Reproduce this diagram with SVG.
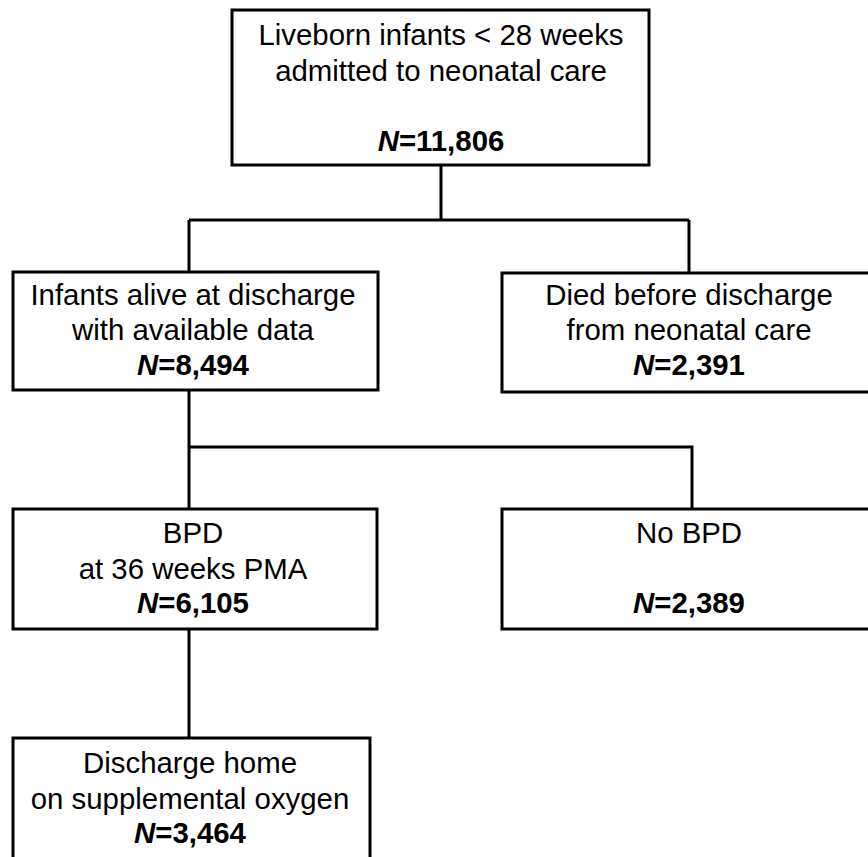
<svg xmlns="http://www.w3.org/2000/svg" width="868" height="857" viewBox="0 0 868 857">
<style>
.box{fill:#fff;stroke:#000;stroke-width:3}
.ln{fill:none;stroke:#000;stroke-width:3}
text{font-family:"Liberation Sans",Arial,sans-serif;font-size:29.4px;fill:#000;text-anchor:middle}
.n{font-weight:bold}
.i{font-style:italic}
</style>
<rect width="868" height="857" fill="#fff"/>
<g id="connectors">
<path class="ln" d="M441,165 V220 M189,220 H689 M189,220 V272 M689,220 V272"/>
<path class="ln" d="M189,391 V447 H692 V509 M189,447 V509"/>
<path class="ln" d="M189,629 V738"/>
</g>
<g id="n1">
<rect class="box" x="232" y="10" width="417" height="155"/>
<text x="441" y="45">Liveborn infants &lt; 28 weeks</text>
<text x="441" y="81">admitted to neonatal care</text>
<text x="441" y="151" class="n"><tspan class="i">N</tspan>=11,806</text>
</g>
<g id="n2">
<rect class="box" x="13" y="272" width="365" height="118"/>
<text x="193" y="305">Infants alive at discharge</text>
<text x="193" y="340">with available data</text>
<text x="193" y="375" class="n"><tspan class="i">N</tspan>=8,494</text>
</g>
<g id="n3">
<rect class="box" x="502" y="273" width="370" height="119"/>
<text x="689" y="305">Died before discharge</text>
<text x="689" y="340">from neonatal care</text>
<text x="689" y="375" class="n"><tspan class="i">N</tspan>=2,391</text>
</g>
<g id="n4">
<rect class="box" x="13" y="509" width="364" height="120"/>
<text x="193" y="543">BPD</text>
<text x="193" y="579">at 36 weeks PMA</text>
<text x="193" y="613" class="n"><tspan class="i">N</tspan>=6,105</text>
</g>
<g id="n5">
<rect class="box" x="502" y="509" width="370" height="120"/>
<text x="689" y="543">No BPD</text>
<text x="689" y="613" class="n"><tspan class="i">N</tspan>=2,389</text>
</g>
<g id="n6">
<rect class="box" x="13" y="738" width="357" height="125"/>
<text x="190" y="773">Discharge home</text>
<text x="190" y="809">on supplemental oxygen</text>
<text x="190" y="843" class="n"><tspan class="i">N</tspan>=3,464</text>
</g>
</svg>
